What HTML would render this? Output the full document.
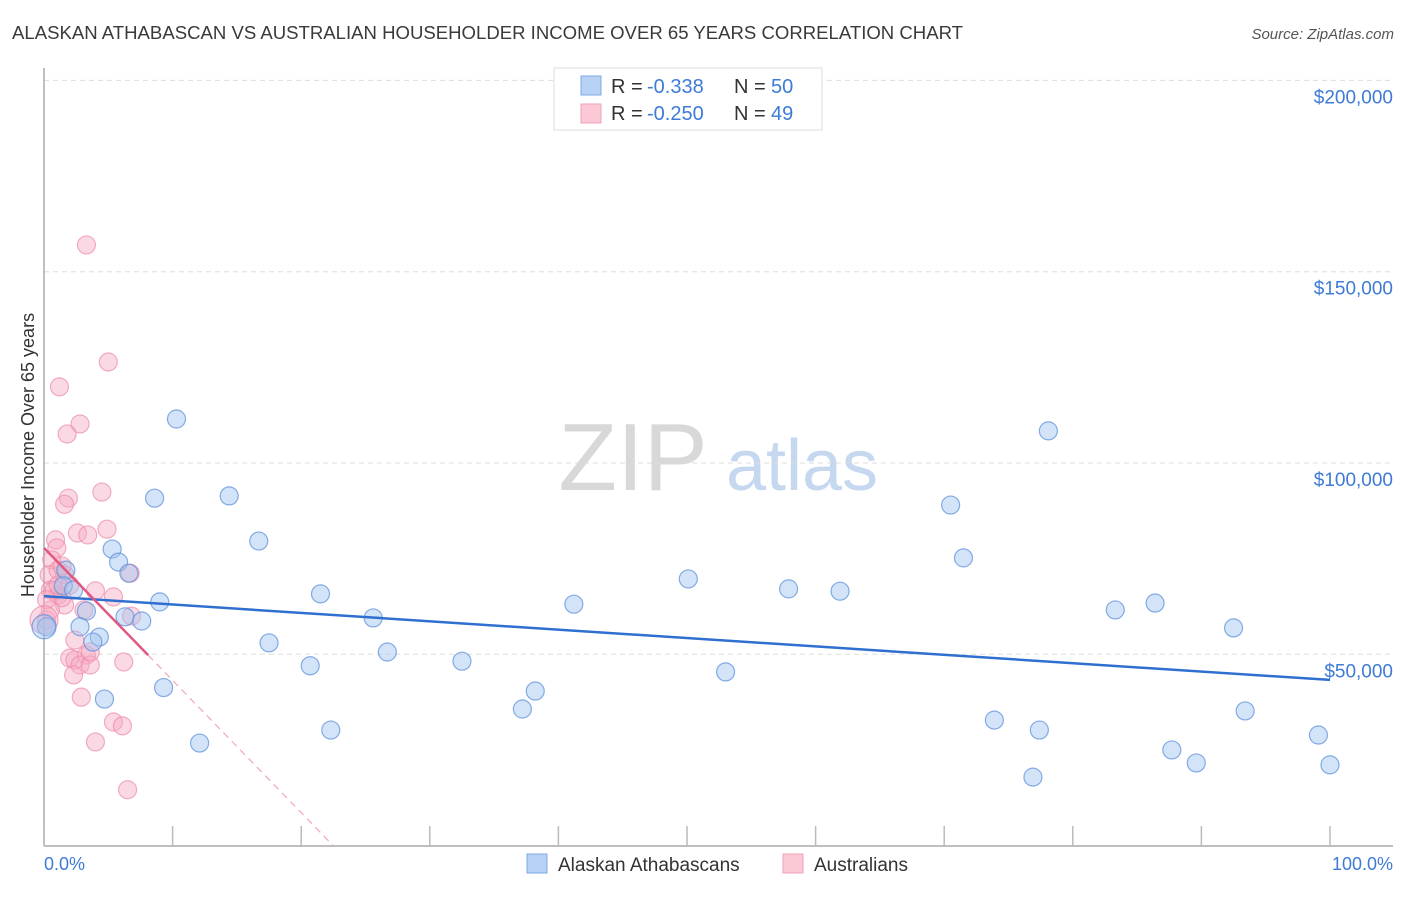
<!DOCTYPE html>
<html><head><meta charset="utf-8"><style>
body{margin:0;background:#fff;font-family:"Liberation Sans",sans-serif;}
svg text{font-family:"Liberation Sans",sans-serif;}
</style></head><body>
<svg id="chart" width="1406" height="892" viewBox="0 0 1406 892" xmlns="http://www.w3.org/2000/svg">
<text x="12" y="39" font-size="18" fill="#3a3a3a" textLength="951" lengthAdjust="spacingAndGlyphs">ALASKAN ATHABASCAN VS AUSTRALIAN HOUSEHOLDER INCOME OVER 65 YEARS CORRELATION CHART</text>
<text x="1394" y="39" font-size="15" fill="#555" font-style="italic" text-anchor="end">Source: ZipAtlas.com</text>
<text transform="translate(34,455) rotate(-90)" font-size="18" fill="#333" text-anchor="middle">Householder Income Over 65 years</text>
<g>
<text x="633" y="490" font-size="96" fill="#d8d8d8" font-family="Liberation Serif, serif" text-anchor="middle">ZIP</text>
<text x="802" y="490" font-size="72" fill="#c5d8f0" text-anchor="middle">atlas</text>
</g>
<g id="grid"></g>
<line x1="44" y1="68" x2="44" y2="846" stroke="#aaa" stroke-width="1.5"/>
<line x1="44" y1="846" x2="1393" y2="846" stroke="#aaa" stroke-width="1.5"/>
<g id="ticks"></g>
<g id="points"></g>
<g id="trends"></g>
<text x="44" y="870" font-size="18" fill="#3d7bd6">0.0%</text>
<text x="1393" y="870" font-size="18" fill="#3d7bd6" text-anchor="end">100.0%</text>
<g>
<rect x="554" y="68" width="268" height="62" fill="#fff" stroke="#ddd"/>
<rect x="581" y="76" width="20" height="19" fill="#b7d2f5" stroke="#7ea9e6"/>
<rect x="581" y="104" width="20" height="19" fill="#fbc8d6" stroke="#f0a0b8"/>
<text x="611" y="93" font-size="20" fill="#333">R =</text>
<text x="647" y="93" font-size="20" fill="#3d7bd6">-0.338</text>
<text x="734" y="93" font-size="20" fill="#333">N =</text>
<text x="771" y="93" font-size="20" fill="#3d7bd6">50</text>
<text x="611" y="120" font-size="20" fill="#333">R =</text>
<text x="647" y="120" font-size="20" fill="#3d7bd6">-0.250</text>
<text x="734" y="120" font-size="20" fill="#333">N =</text>
<text x="771" y="120" font-size="20" fill="#3d7bd6">49</text>
</g>
<g>
<rect x="527" y="854" width="20" height="19" fill="#b7d2f5" stroke="#7ea9e6"/>
<text x="558" y="871" font-size="19" fill="#333">Alaskan Athabascans</text>
<rect x="783" y="854" width="20" height="19" fill="#fbc8d6" stroke="#f0a0b8"/>
<text x="814" y="871" font-size="19" fill="#333">Australians</text>
</g>
</svg>
<script>
const yTicks=[50000,100000,150000,200000];
const yTickLabels=["$50,000","$100,000","$150,000","$200,000"];
const xTicks=[0,10,20,30,40,50,60,70,80,90,100];
const blueX=[10.3,8.6,14.4,16.7,5.3,5.8,6.6,1.7,1.5,2.3,3.3,9.0,6.3,7.6,2.8,4.3,0.2,3.8,4.7,9.3,12.1,17.5,20.7,21.5,22.3,25.6,26.7,32.5,37.2,38.2,41.2,50.1,53.0,57.9,61.9,70.5,71.5,78.1,73.9,77.4,76.9,83.3,86.4,87.7,89.6,92.5,93.4,99.1,100,0];
const blueY=[111.5,90.8,91.4,79.6,77.5,74.1,71.2,72.0,67.9,66.8,61.3,63.7,59.8,58.7,57.2,54.5,57.2,53.2,38.3,41.3,26.8,53.0,47.0,65.8,30.2,59.5,50.6,48.2,35.7,40.4,63.1,69.7,45.4,67.1,66.5,89.0,75.2,108.4,32.8,30.2,17.9,61.6,63.4,25.0,21.6,56.9,35.2,28.9,21.1,57.2];
const pinkX=[3.3,5.0,1.2,2.8,1.8,1.9,1.6,4.5,4.9,2.6,0.9,1.0,0.6,0.4,0.5,1.1,1.6,3.1,4.0,5.4,6.8,1.4,0.2,2.4,2.0,3.3,2.4,2.8,3.6,6.2,2.3,2.9,5.4,6.1,4.0,6.5,0.8,1.6,0.5,2.0,1.1,0.2,1.4,0,3.6,1.1,6.7,3.4];
const pinkY=[157.0,126.4,119.9,110.2,107.6,90.8,89.2,92.4,82.7,81.7,79.9,77.8,74.7,70.8,66.8,65.5,62.9,61.6,66.6,65.0,60.0,64.8,59.0,53.7,49.0,49.8,48.5,47.2,47.2,48.0,44.6,38.8,32.3,31.3,27.1,14.6,66.8,70.8,61.6,68.1,72.0,64.3,73.1,59.0,50.6,68.1,71.2,81.2];
const blueTrend=[65.2,43.3];
const pinkTrend=[77.8,-3.46];
const pinkSolidEnd=8.1;
const NS="http://www.w3.org/2000/svg";
function sx(p){return 44+p*12.86;}
function sy(v){return 845.6-v*0.003826;}
function mk(t,a,parent){const e=document.createElementNS(NS,t);for(const k in a)e.setAttribute(k,a[k]);document.getElementById(parent).appendChild(e);return e;}
yTicks.forEach((v,i)=>{
 const l=mk('line',{x1:44,x2:1393,y1:sy(v),y2:sy(v),stroke:'#ddd','stroke-dasharray':'5,4'},'grid');
 
 
 const t=mk('text',{x:1393,y:sy(v)+23,'font-size':19,fill:'#3d7bd6','text-anchor':'end'},'grid');
 t.textContent=yTickLabels[i];
 
 
});
xTicks.forEach(p=>{
 const l=mk('line',{x1:sx(p),x2:sx(p),y1:826,y2:846,stroke:'#bbb','stroke-width':1.5},'ticks');
 
 
});
pinkX.forEach((x,i)=>{
 const r=(x===0)?14:9;
 const c=mk('circle',{cx:sx(x),cy:sy(pinkY[i]*1000),r:r,fill:'rgba(247,170,195,0.45)',stroke:'rgba(236,140,170,0.7)','stroke-width':1.2},'points');
 
 
});
blueX.forEach((x,i)=>{
 const r=(x===0)?12:9;
 const c=mk('circle',{cx:sx(x),cy:sy(blueY[i]*1000),r:r,fill:'rgba(160,195,240,0.45)',stroke:'rgba(95,145,220,0.75)','stroke-width':1.2},'points');
 
 
});
const bl=mk('line',{x1:sx(0),y1:sy(blueTrend[0]*1000),x2:sx(100),y2:sy(blueTrend[1]*1000),stroke:'#2f6fd0','stroke-width':2.5},'trends');


const pEnd=-pinkTrend[0]/pinkTrend[1];
const pd=mk('line',{x1:sx(pinkSolidEnd),y1:sy((pinkTrend[0]+pinkTrend[1]*pinkSolidEnd)*1000),x2:sx(pEnd),y2:sy(0),stroke:'#f0a8bc','stroke-width':1.2,'stroke-dasharray':'7,5'},'trends');


const pl=mk('line',{x1:sx(0),y1:sy(pinkTrend[0]*1000),x2:sx(pinkSolidEnd),y2:sy((pinkTrend[0]+pinkTrend[1]*pinkSolidEnd)*1000),stroke:'#e2577f','stroke-width':2.5},'trends');


</script>
</body></html>
